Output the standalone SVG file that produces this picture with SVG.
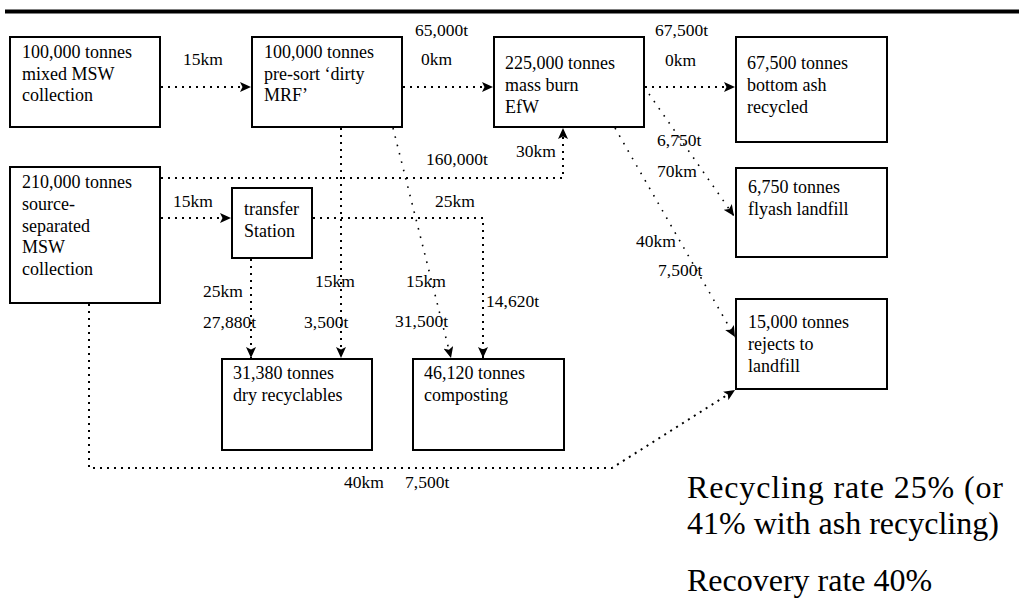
<svg xmlns="http://www.w3.org/2000/svg" width="1019" height="610" viewBox="0 0 1019 610">
  <style>
    .box { fill: #fff; stroke: #000; stroke-width: 2; }
    text { font-family: 'Liberation Serif', 'Times New Roman', Times, serif; fill: #000; }
    .t { font-size: 18px; }
    .lbl { font-size: 17.5px; }
    .big { font-size: 32px; }
    .dot { fill: none; stroke: #000; stroke-width: 2; stroke-dasharray: 2 5; }
    .fine { fill: none; stroke: #000; stroke-width: 1.6; stroke-dasharray: 1.6 7; }
  </style>
  <defs>
    <marker id="arrow" markerUnits="userSpaceOnUse" markerWidth="12" markerHeight="10" refX="11" refY="5" orient="auto">
      <path d="M0,0 L11,5 L0,10 L2.5,5 z" fill="#000"/>
    </marker>
  </defs>

  <!-- heading rule -->
  <rect x="5" y="9.5" width="1014" height="4" fill="#000"/>

  <!-- flows between facilities -->
  <g id="connectors">
    <line class="dot" x1="161" y1="87" x2="251" y2="87" marker-end="url(#arrow)"/>
    <line class="dot" x1="403" y1="87" x2="493" y2="87" marker-end="url(#arrow)"/>
    <line class="dot" x1="645" y1="87" x2="735" y2="87" marker-end="url(#arrow)"/>
    <line class="fine" x1="649" y1="94" x2="734" y2="216" marker-end="url(#arrow)"/>
    <line class="fine" x1="615" y1="128" x2="735" y2="337" marker-end="url(#arrow)"/>
    <polyline class="dot" points="161,178 563,178 563,128" marker-end="url(#arrow)"/>
    <line class="dot" x1="161" y1="218" x2="231" y2="218" marker-end="url(#arrow)"/>
    <polyline class="dot" points="313,218 483,218 483,358" marker-end="url(#arrow)"/>
    <line class="dot" x1="251" y1="259" x2="251" y2="358" marker-end="url(#arrow)"/>
    <line class="dot" x1="341" y1="128" x2="341" y2="358" marker-end="url(#arrow)"/>
    <line class="fine" x1="393" y1="128" x2="451" y2="358" marker-end="url(#arrow)"/>
    <polyline class="dot" points="89,304 89,468 612,468 735,390" marker-end="url(#arrow)"/>
  </g>

  <!-- flow labels -->
  <g id="flow-labels">
    <text class="lbl" x="183" y="65">15km</text>
    <text class="lbl" x="415" y="36">65,000t</text>
    <text class="lbl" x="421" y="65">0km</text>
    <text class="lbl" x="655" y="36">67,500t</text>
    <text class="lbl" x="665" y="66">0km</text>
    <text class="lbl" x="657" y="146">6,750t</text>
    <text class="lbl" x="657" y="177">70km</text>
    <text class="lbl" x="636" y="247">40km</text>
    <text class="lbl" x="658" y="276">7,500t</text>
    <text class="lbl" x="426" y="165">160,000t</text>
    <text class="lbl" x="516" y="157">30km</text>
    <text class="lbl" x="173" y="207">15km</text>
    <text class="lbl" x="435" y="207">25km</text>
    <text class="lbl" x="203" y="297">25km</text>
    <text class="lbl" x="315" y="287">15km</text>
    <text class="lbl" x="406" y="287">15km</text>
    <text class="lbl" x="486" y="307">14,620t</text>
    <text class="lbl" x="203" y="328">27,880t</text>
    <text class="lbl" x="304" y="328">3,500t</text>
    <text class="lbl" x="395" y="327">31,500t</text>
    <text class="lbl" x="344" y="488">40km</text>
    <text class="lbl" x="405" y="488">7,500t</text>
  </g>

  <g id="mixed-msw">
    <rect class="box" x="10" y="37" width="150" height="90"/>
    <text class="t" x="22" y="58">100,000 tonnes</text>
    <text class="t" x="22" y="79.5">mixed MSW</text>
    <text class="t" x="22" y="101">collection</text>
  </g>

  <g id="dirty-mrf">
    <rect class="box" x="252" y="37" width="150" height="90"/>
    <text class="t" x="264" y="58">100,000 tonnes</text>
    <text class="t" x="264" y="79.5">pre-sort ‘dirty</text>
    <text class="t" x="264" y="101">MRF’</text>
  </g>

  <g id="efw">
    <rect class="box" x="494" y="37" width="150" height="90"/>
    <text class="t" x="505" y="69">225,000 tonnes</text>
    <text class="t" x="505" y="91">mass burn</text>
    <text class="t" x="505" y="113">EfW</text>
  </g>

  <g id="bottom-ash">
    <rect class="box" x="736" y="37" width="151" height="105"/>
    <text class="t" x="747" y="69">67,500 tonnes</text>
    <text class="t" x="747" y="91">bottom ash</text>
    <text class="t" x="747" y="113">recycled</text>
  </g>

  <g id="source-separated">
    <rect class="box" x="10" y="167" width="150" height="136"/>
    <text class="t" x="22" y="188">210,000 tonnes</text>
    <text class="t" x="22" y="210">source-</text>
    <text class="t" x="22" y="231.5">separated</text>
    <text class="t" x="22" y="253">MSW</text>
    <text class="t" x="22" y="275">collection</text>
  </g>

  <g id="transfer-station">
    <rect class="box" x="232" y="188" width="80" height="70"/>
    <text class="t" x="244" y="215">transfer</text>
    <text class="t" x="244" y="237">Station</text>
  </g>

  <g id="flyash">
    <rect class="box" x="736" y="168" width="151" height="89"/>
    <text class="t" x="748" y="193">6,750 tonnes</text>
    <text class="t" x="748" y="215">flyash landfill</text>
  </g>

  <g id="rejects">
    <rect class="box" x="736" y="299" width="151" height="90"/>
    <text class="t" x="748" y="328">15,000 tonnes</text>
    <text class="t" x="748" y="350">rejects to</text>
    <text class="t" x="748" y="372">landfill</text>
  </g>

  <g id="dry-recyclables">
    <rect class="box" x="222" y="359" width="150" height="91"/>
    <text class="t" x="233" y="379">31,380 tonnes</text>
    <text class="t" x="233" y="401">dry recyclables</text>
  </g>

  <g id="composting">
    <rect class="box" x="413" y="359" width="151" height="91"/>
    <text class="t" x="424" y="379">46,120 tonnes</text>
    <text class="t" x="424" y="401">composting</text>
  </g>

  <!-- summary rates; the first line is justified to the column width -->
  <g id="rates">
    <text class="big" x="687" y="498" textLength="316" lengthAdjust="spacing">Recycling rate 25% (or</text>
    <text class="big" x="687" y="534">41% with ash recycling)</text>
    <text class="big" x="687" y="591">Recovery rate 40%</text>
  </g>
</svg>
